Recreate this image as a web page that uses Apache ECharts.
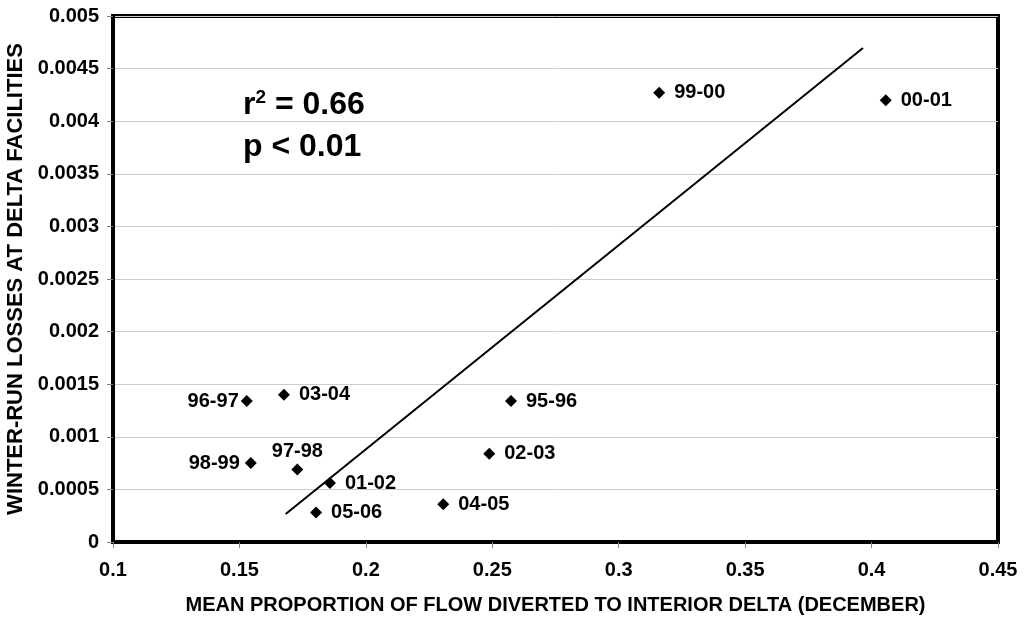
<!DOCTYPE html>
<html>
<head>
<meta charset="utf-8">
<script src="https://cdn.jsdelivr.net/npm/echarts@6/dist/echarts.min.js"></script>
<style>
html,body{margin:0;padding:0;background:#fff;}
#chart{width:1027px;height:620px;}
</style>
</head>
<body>
<div id="chart"></div>
<script>
// ---- data ----
var seasons = ['96-97','03-04','95-96','98-99','97-98','01-02','05-06','04-05','02-03','99-00','00-01'];
var proportionDiverted = [0.1529,0.1676,0.2574,0.1545,0.1729,0.1858,0.1803,0.2306,0.2488,0.3160,0.4056];
var winterRunLosses = [0.00134,0.00140,0.00134,0.00075,0.00069,0.00056,0.00028,0.00036,0.00084,0.00427,0.00420];
var trendX = [0.1683,0.3966];
var trendY = [0.000266,0.004696];
var xTickLabels = ['0.1','0.15','0.2','0.25','0.3','0.35','0.4','0.45'];
var yTickLabels = ['0','0.0005','0.001','0.0015','0.002','0.0025','0.003','0.0035','0.004','0.0045','0.005'];
var statText1 = '0.66';
var statText2 = 'p < 0.01';

// ---- label placement (style, not data) ----
var labelPlacement = {
  '96-97': {position:'left', distance:2},
  '98-99': {position:'left', distance:5},
  '97-98': {position:'top', distance:2}
};

var FONT = 'Liberation Sans, Arial, sans-serif';
var pts = seasons.map(function(s,i){
  var p = labelPlacement[s] || {position:'right', distance:9};
  return {
    name: s,
    value: [proportionDiverted[i], winterRunLosses[i]],
    label: {position: p.position, distance: p.distance}
  };
});

var chart = echarts.init(document.getElementById('chart'));
chart.setOption({
  animation:false,
  backgroundColor:'#fff',
  grid:{left:113,right:29,top:16,bottom:78,outerBoundsMode:'none',containLabel:false,
    show:true,borderColor:'#000',borderWidth:4,backgroundColor:'transparent'},
  xAxis:{
    type:'value',min:0.1,max:0.45,interval:0.05,
    name:'MEAN PROPORTION OF FLOW DIVERTED TO INTERIOR DELTA (DECEMBER)',
    nameLocation:'middle',nameGap:53,
    nameTextStyle:{fontFamily:FONT,fontWeight:'bold',fontSize:20,color:'#000'},
    axisLine:{show:true,lineStyle:{color:'#000',width:4}},
    axisTick:{show:true,length:6,lineStyle:{color:'#808080',width:1}},
    axisLabel:{margin:18,fontFamily:FONT,fontWeight:'bold',fontSize:20,color:'#000',
      formatter:function(v){return xTickLabels[Math.round((v-0.1)/0.05)];}},
    splitLine:{show:false}
  },
  yAxis:{
    type:'value',min:0,max:0.005,interval:0.0005,
    name:'WINTER-RUN LOSSES AT DELTA FACILITIES',
    nameLocation:'middle',nameGap:81,
    nameTextStyle:{fontFamily:FONT,fontWeight:'bold',fontSize:22,color:'#000'},
    axisLine:{show:true,lineStyle:{color:'#000',width:4}},
    axisTick:{show:true,length:6,lineStyle:{color:'#808080',width:1}},
    axisLabel:{margin:14,fontFamily:FONT,fontWeight:'bold',fontSize:20,color:'#000',
      formatter:function(v){return yTickLabels[Math.round(v/0.0005)];}},
    splitLine:{show:true,lineStyle:{color:'#cccccc',width:1}}
  },
  series:[
    {
      type:'line',
      data:trendX.map(function(x,i){return [x,trendY[i]];}),
      symbol:'none',
      lineStyle:{color:'#000',width:2},
      z:2
    },
    {
      type:'scatter',
      data:pts,
      symbol:'diamond',
      symbolSize:12,
      itemStyle:{color:'#000',opacity:1},
      label:{show:true,formatter:'{b}',fontFamily:FONT,fontWeight:'bold',fontSize:20,color:'#000'},
      z:3
    }
  ],
  graphic:[
    {type:'text',left:243,top:88,z:10,style:{
      text:'r{sup|2} = '+statText1,
      font:'bold 32px '+FONT,fill:'#000',
      rich:{sup:{fontSize:19,fontWeight:'bold',fontFamily:FONT,verticalAlign:'top',padding:[0,0,16,0]}}
    }},
    {type:'text',left:243,top:131,z:10,style:{text:statText2,font:'bold 32px '+FONT,fill:'#000'}}
  ]
});
</script>
</body>
</html>
